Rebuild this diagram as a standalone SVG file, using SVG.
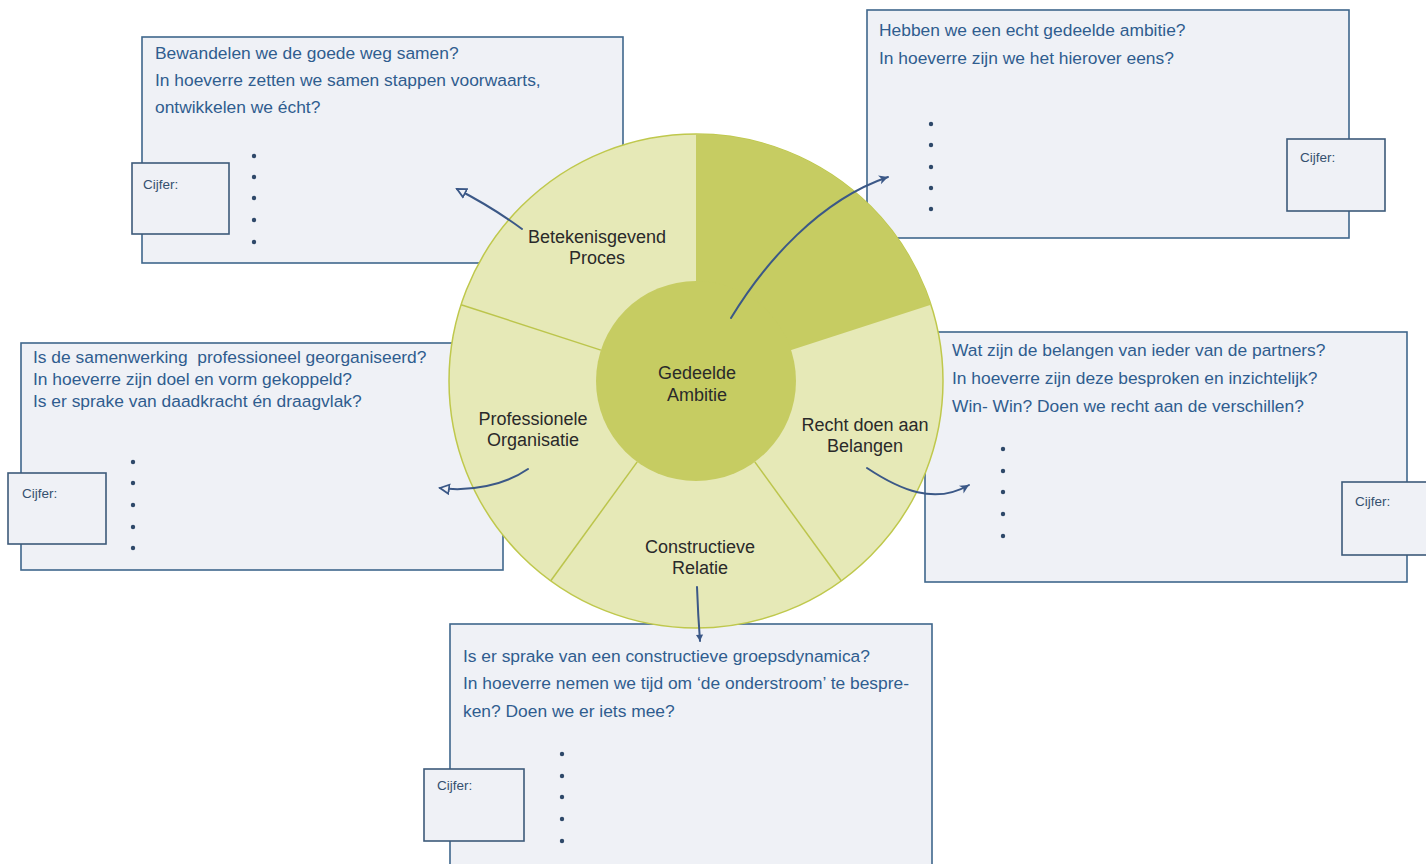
<svg xmlns="http://www.w3.org/2000/svg" width="1426" height="864" viewBox="0 0 1426 864">
<defs>
<style>
.box{fill:#eff1f6;stroke:#3f678c;stroke-width:1.6}
.cij{fill:#eff1f6;stroke:#3d5a7a;stroke-width:1.6}
.q{font-family:"Liberation Sans",Arial,sans-serif;font-size:17.4px;fill:#2f5d8f}
.ct{font-family:"Liberation Sans",Arial,sans-serif;font-size:13.5px;fill:#34506f}
.dot{fill:#2e4869}
.lbl{font-family:"Liberation Sans",Arial,sans-serif;font-size:18px;fill:#2a2a2a;text-anchor:middle}
.light{fill:#e6e9b7;stroke:#bfc84c;stroke-width:1.5}
.dark{fill:#c6cc62}
.sep{stroke:#bcc54c;stroke-width:1.5}
.arr{fill:none;stroke:#3b5887;stroke-width:2;stroke-linecap:round}
</style>
<marker id="openTri" viewBox="0 0 12 12" refX="10" refY="6" markerWidth="12" markerHeight="12" markerUnits="userSpaceOnUse" orient="auto">
<path d="M1,1.5 L10,6 L1,10.5 Z" fill="#eff1f6" stroke="#3b5887" stroke-width="1.8"/>
</marker>
<marker id="dart" viewBox="0 0 12 12" refX="10" refY="6" markerWidth="12" markerHeight="12" markerUnits="userSpaceOnUse" orient="auto">
<path d="M1,1.5 L10,6 L1,10.5 L3.5,6 Z" fill="#3b5887"/>
</marker>
<marker id="small" viewBox="0 0 10 10" refX="8" refY="5" markerWidth="9" markerHeight="9" markerUnits="userSpaceOnUse" orient="auto">
<path d="M1,1 L8,5 L1,9 Z" fill="#3b5887"/>
</marker>
</defs>

<g id="box-proces">
<rect class="box" x="142" y="37" width="481" height="226"/>
<text class="q" x="155" y="59">Bewandelen we de goede weg samen?</text>
<text class="q" x="155" y="86">In hoeverre zetten we samen stappen voorwaarts,</text>
<text class="q" x="155" y="113">ontwikkelen we écht?</text>
<circle class="dot" cx="254" cy="156" r="2.2"/>
<circle class="dot" cx="254" cy="177" r="2.2"/>
<circle class="dot" cx="254" cy="198" r="2.2"/>
<circle class="dot" cx="254" cy="220" r="2.2"/>
<circle class="dot" cx="254" cy="242" r="2.2"/>
<rect class="cij" x="132" y="163" width="97" height="71"/>
<text class="ct" x="143" y="189">Cijfer:</text>
</g>

<g id="box-ambitie">
<rect class="box" x="867" y="10" width="482" height="228"/>
<text class="q" x="879" y="36">Hebben we een echt gedeelde ambitie?</text>
<text class="q" x="879" y="64">In hoeverre zijn we het hierover eens?</text>
<circle class="dot" cx="931" cy="124" r="2.2"/>
<circle class="dot" cx="931" cy="145" r="2.2"/>
<circle class="dot" cx="931" cy="167" r="2.2"/>
<circle class="dot" cx="931" cy="188" r="2.2"/>
<circle class="dot" cx="931" cy="209" r="2.2"/>
<rect class="cij" x="1287" y="139" width="98" height="72"/>
<text class="ct" x="1300" y="162">Cijfer:</text>
</g>

<g id="box-organisatie">
<rect class="box" x="21" y="343" width="482" height="227"/>
<text class="q" x="33" y="363" xml:space="preserve">Is de samenwerking  professioneel georganiseerd?</text>
<text class="q" x="33" y="385">In hoeverre zijn doel en vorm gekoppeld?</text>
<text class="q" x="33" y="407">Is er sprake van daadkracht én draagvlak?</text>
<circle class="dot" cx="133" cy="462" r="2.2"/>
<circle class="dot" cx="133" cy="483" r="2.2"/>
<circle class="dot" cx="133" cy="505" r="2.2"/>
<circle class="dot" cx="133" cy="527" r="2.2"/>
<circle class="dot" cx="133" cy="548" r="2.2"/>
<rect class="cij" x="8" y="473" width="98" height="71"/>
<text class="ct" x="22" y="498">Cijfer:</text>
</g>

<g id="box-belangen">
<rect class="box" x="925" y="332" width="482" height="250"/>
<text class="q" x="952" y="356">Wat zijn de belangen van ieder van de partners?</text>
<text class="q" x="952" y="384">In hoeverre zijn deze besproken en inzichtelijk?</text>
<text class="q" x="952" y="412">Win- Win? Doen we recht aan de verschillen?</text>
<circle class="dot" cx="1003" cy="449" r="2.2"/>
<circle class="dot" cx="1003" cy="471" r="2.2"/>
<circle class="dot" cx="1003" cy="492" r="2.2"/>
<circle class="dot" cx="1003" cy="514" r="2.2"/>
<circle class="dot" cx="1003" cy="536" r="2.2"/>
<rect class="cij" x="1342" y="482" width="90" height="73"/>
<text class="ct" x="1355" y="506">Cijfer:</text>
</g>

<g id="box-relatie">
<rect class="box" x="450" y="624" width="482" height="250"/>
<text class="q" x="463" y="662">Is er sprake van een constructieve groepsdynamica?</text>
<text class="q" x="463" y="689">In hoeverre nemen we tijd om ‘de onderstroom’ te bespre-</text>
<text class="q" x="463" y="717">ken? Doen we er iets mee?</text>
<circle class="dot" cx="562" cy="754" r="2.2"/>
<circle class="dot" cx="562" cy="776" r="2.2"/>
<circle class="dot" cx="562" cy="797" r="2.2"/>
<circle class="dot" cx="562" cy="819" r="2.2"/>
<circle class="dot" cx="562" cy="841" r="2.2"/>
<rect class="cij" x="424" y="769" width="100" height="72"/>
<text class="ct" x="437" y="790">Cijfer:</text>
</g>

<g id="wheel">
<circle class="light" cx="696" cy="381" r="247"/>
<path class="dark" d="M696,381 L696,134 A247,247 0 0,1 930.9,304.7 Z"/>
<line class="sep" x1="754.8" y1="461.9" x2="841.2" y2="580.8"/>
<line class="sep" x1="637.2" y1="461.9" x2="550.8" y2="580.8"/>
<line class="sep" x1="600.9" y1="350.1" x2="461.1" y2="304.7"/>
<circle class="dark" cx="696" cy="381" r="100"/>
</g>

<g id="node-ambitie">
<text class="lbl" x="697" y="379">Gedeelde</text>
<text class="lbl" x="697" y="401">Ambitie</text>
</g>
<g id="node-proces">
<text class="lbl" x="597" y="243">Betekenisgevend</text>
<text class="lbl" x="597" y="264">Proces</text>
</g>
<g id="node-organisatie">
<text class="lbl" x="533" y="425">Professionele</text>
<text class="lbl" x="533" y="446">Organisatie</text>
</g>
<g id="node-belangen">
<text class="lbl" x="865" y="431">Recht doen aan</text>
<text class="lbl" x="865" y="452">Belangen</text>
</g>
<g id="node-relatie">
<text class="lbl" x="700" y="553">Constructieve</text>
<text class="lbl" x="700" y="574">Relatie</text>
</g>

<g id="connectors">
<path class="arr" d="M522,229 Q492,207 457,189" marker-end="url(#openTri)"/>
<path class="arr" d="M731,318 C765,262 820,200 888,177" marker-end="url(#dart)"/>
<path class="arr" d="M528,469 C505,485 470,492 440,488" marker-end="url(#openTri)"/>
<path class="arr" d="M867,468 C900,490 935,505 969,485" marker-end="url(#dart)"/>
<path class="arr" d="M697,587 Q698,615 700,641" marker-end="url(#small)"/>
</g>
</svg>
